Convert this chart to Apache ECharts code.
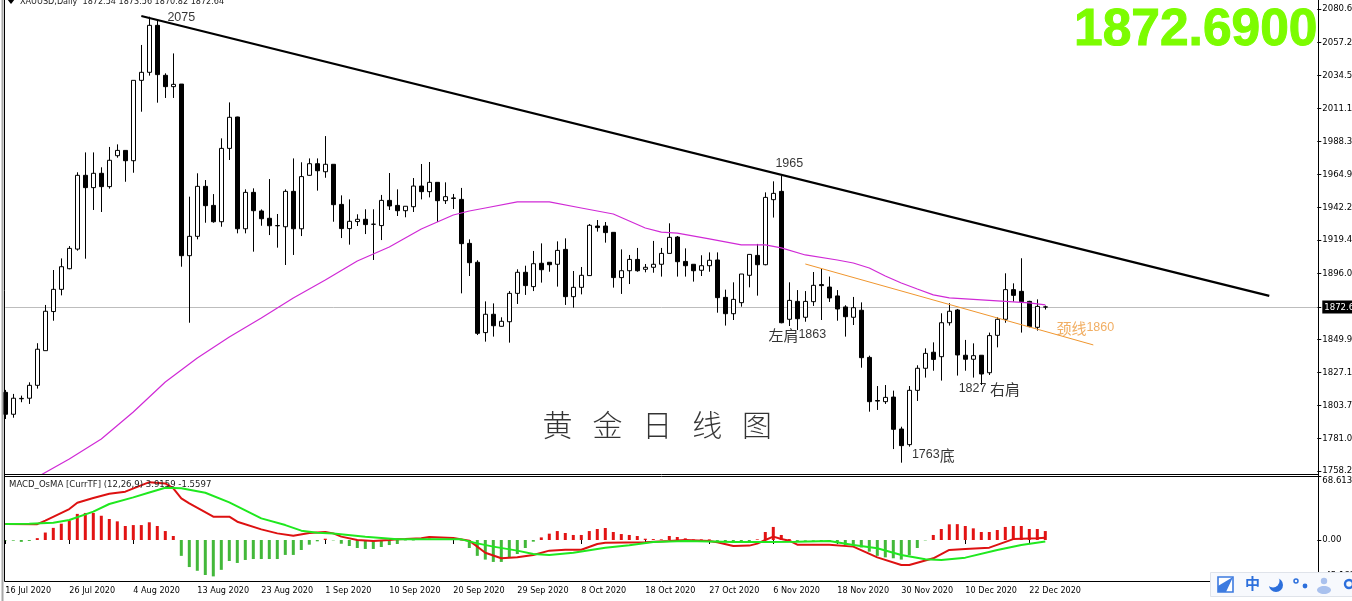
<!DOCTYPE html>
<html><head><meta charset="utf-8">
<style>html,body{margin:0;padding:0;background:#fff;overflow:hidden}#c{width:1352px;height:601px}</style>
<script src="https://cdn.jsdelivr.net/npm/echarts@6/dist/echarts.min.js"></script>
</head><body><div id="c"></div>
<script>
const xTickLabels = ['16 Jul 2020','26 Jul 2020','4 Aug 2020','13 Aug 2020','23 Aug 2020','1 Sep 2020','10 Sep 2020','20 Sep 2020','29 Sep 2020','8 Oct 2020','18 Oct 2020','27 Oct 2020','6 Nov 2020','18 Nov 2020','30 Nov 2020','10 Dec 2020','22 Dec 2020'];
const priceTicks = [2080.6,2057.2,2034.5,2011.1,1988.3,1964.9,1942.2,1919.4,1896.0,1872.6,1849.9,1827.1,1803.7,1781.0,1758.2];
const macdTicks = [68.6135,0,-43.95];
const lastPrice = 1872.64;

const opens = [1813.0,1797.7,1808.5,1808.9,1817.9,1842.1,1869.4,1884.9,1899.3,1913.0,
1964.5,1955.9,1965.9,1956.6,1978.2,1981.9,1974.7,2030.8,2036.4,2069.2,
2034.3,2026.4,2028.2,1908.4,1921.9,1956.8,1943.5,1932.1,1983.3,2005.2,
1927.2,1952.6,1939.6,1934.5,1929.4,1928.6,1953.3,1927.2,1964.5,1972.6,
1967.0,1972.2,1944.2,1927.3,1932.2,1933.8,1930.4,1929.4,1947.0,1943.5,
1939.8,1942.6,1957.0,1953.1,1959.6,1946.8,1948.7,1947.7,1917.0,1903.8,
1854.7,1867.5,1859.1,1862.3,1882.1,1896.8,1886.8,1903.1,1903.8,1902.4,
1912.8,1879.8,1886.3,1894.5,1929.1,1929.1,1924.7,1893.1,1897.9,1905.8,
1898.9,1900.3,1902.4,1910.0,1921.4,1904.4,1902.4,1898.2,1901.4,1905.4,
1879.3,1867.9,1875.6,1894.7,1908.6,1902.1,1947.5,1953.3,1864.0,1876.5,
1865.4,1876.3,1888.2,1886.5,1880.3,1872.6,1865.4,1870.3,1837.4,1807.3,
1806.5,1809.7,1787.4,1776.5,1814.4,1829.8,1841.0,1837.9,1861.6,1870.5,
1838.9,1836.1,1838.9,1826.7,1852.8,1864.0,1884.7,1883.5,1876.5,1858.4,
1872.54];
const closes = [1797.7,1808.9,1808.8,1817.9,1843.1,1869.6,1884.9,1900.7,1913.5,1964.5,
1955.9,1965.9,1956.6,1975.0,1981.9,1974.7,2030.8,2036.4,2069.2,2034.8,
2026.4,2028.0,1908.4,1921.9,1956.8,1943.3,1932.1,1983.3,2005.0,1927.2,
1952.6,1939.8,1934.2,1929.3,1929.3,1953.3,1927.2,1963.6,1972.6,1967.7,
1972.2,1944.0,1927.3,1932.4,1933.8,1930.1,1930.3,1947.0,1943.1,1939.8,
1942.9,1957.0,1953.1,1959.6,1946.8,1949.6,1948.4,1916.8,1903.5,1854.2,
1867.5,1859.5,1862.6,1882.1,1896.8,1887.5,1902.8,1898.6,1902.1,1912.1,
1879.8,1886.3,1894.7,1929.6,1928.0,1924.5,1893.1,1897.9,1905.8,1897.9,
1900.3,1902.4,1910.0,1921.2,1904.2,1901.4,1897.9,1901.4,1905.2,1879.1,
1867.9,1877.9,1895.6,1909.3,1902.1,1949.1,1951.9,1861.6,1877.2,1864.4,
1876.5,1887.7,1887.5,1878.9,1871.2,1865.8,1872.1,1837.2,1806.5,1806.9,
1809.5,1787.2,1775.8,1814.4,1829.8,1840.2,1836.0,1861.6,1869.6,1839.1,
1836.1,1838.6,1825.8,1852.6,1864.0,1884.7,1880.7,1876.3,1858.9,1873.0,
1872.64];
const lows = [1794.4,1795.3,1806.1,1804.9,1815.6,1842.1,1863.0,1880.7,1898.9,1911.9,
1906.3,1940.3,1938.9,1955.2,1976.8,1960.0,1966.3,2008.9,2034.1,2015.2,
2018.5,2018.5,1900.7,1861.6,1919.8,1931.4,1931.4,1928.6,1975.2,1924.0,
1924.0,1911.2,1929.3,1922.8,1914.0,1901.9,1908.9,1922.1,1964.2,1953.8,
1962.8,1932.1,1920.7,1916.1,1929.1,1923.5,1905.4,1919.3,1940.3,1936.1,
1935.2,1938.9,1947.7,1949.1,1931.9,1944.5,1941.0,1882.1,1894.2,1853.0,
1848.4,1851.9,1858.9,1847.7,1874.7,1881.0,1883.7,1889.6,1897.2,1886.8,
1874.0,1872.1,1881.4,1894.4,1925.2,1917.5,1886.1,1881.7,1888.6,1897.2,
1896.8,1896.5,1893.8,1910.0,1893.8,1893.8,1890.3,1894.2,1897.2,1868.6,
1859.6,1863.5,1872.8,1886.3,1880.5,1901.7,1935.0,1861.2,1859.3,1856.5,
1862.3,1873.3,1863.5,1876.1,1863.0,1851.9,1860.0,1830.2,1799.5,1800.7,
1804.9,1773.4,1763.9,1775.1,1807.0,1823.3,1828.1,1821.2,1859.6,1824.7,
1828.1,1823.3,1818.1,1825.1,1844.4,1861.6,1876.3,1854.7,1858.4,1856.1,
1870.82];
const highs = [1814.7,1811.9,1810.7,1820.0,1847.3,1874.0,1898.4,1906.5,1915.1,1966.6,
1980.5,1980.5,1970.1,1984.3,1986.1,1982.0,2030.8,2055.5,2075.2,2072.5,
2035.7,2049.6,2028.2,1949.6,1965.9,1961.2,1951.4,1990.3,2015.4,2005.4,
1954.7,1955.4,1940.7,1961.9,1937.5,1954.7,1976.3,1973.6,1976.3,1976.3,
1991.9,1972.2,1950.5,1947.7,1937.3,1940.8,1940.8,1950.8,1966.1,1954.7,
1942.9,1962.6,1972.4,1973.8,1959.6,1959.6,1951.5,1955.7,1919.8,1905.2,
1876.5,1875.1,1865.4,1883.7,1898.9,1901.4,1911.7,1917.0,1903.8,1918.4,
1920.5,1897.7,1900.5,1930.5,1933.3,1931.9,1924.7,1912.8,1908.9,1913.8,
1902.6,1918.7,1913.8,1931.0,1922.1,1913.5,1902.4,1908.7,1910.7,1910.7,
1884.7,1889.8,1895.6,1909.3,1916.6,1952.6,1960.3,1964.0,1889.8,1884.4,
1883.7,1897.0,1899.3,1893.8,1884.4,1873.8,1879.6,1875.8,1838.6,1817.4,
1818.1,1814.2,1789.0,1817.4,1831.9,1843.7,1847.9,1868.2,1875.2,1871.2,
1849.6,1847.2,1838.9,1854.7,1865.4,1896.1,1889.1,1906.6,1876.9,1877.9,
1873.56];

const maBars = [4,8,12,16,20,24,28,32,36,40,44,48,52,56,58,60,64,68,72,76,80,82,84,88,92,95,97,100,104,106,108,110,112,114,116,118,120,124,128,130];
const maValues = [1753.9,1766.5,1780.4,1799.3,1820.2,1837.0,1851.6,1864.9,1878.9,1891.4,1904.7,1914.5,1927.0,1936.8,1939.6,1941.7,1945.9,1945.9,1941.7,1937.5,1927.7,1924.9,1924.2,1920.1,1915.9,1915.9,1913.8,1908.9,1905.4,1903.3,1899.8,1894.2,1889.3,1885.1,1881.0,1878.9,1878.2,1876.8,1875.4,1874.0];

const histogram = [-0.5,-0.7,-2,-1,2,8,13,17.5,21,28,
29,29,26,22.5,20,15,16,16,19,15,
9.6,4.3,-17,-29,-33,-37.5,-39,-32,-22.5,-24.6,
-21.4,-20.4,-20.4,-20.4,-20.4,-16,-16,-10.7,-5,-1.4,
1.4,-0.4,-4,-6.4,-8.6,-9.6,-9.6,-7.5,-5.4,-4.3,
-0.5,-0.5,1,1.5,0.5,0.3,0.2,-0.5,-8.6,-17,
-21,-23.5,-23.5,-19,-15,-8.6,-1.8,2.8,6.8,9.6,
7.5,5.4,5.4,9.6,11.8,12.9,8.6,6.4,5.4,4.3,
1.4,1,0.7,4.3,3.2,1.8,0.7,0.7,0.7,-1,
-2,-3.2,-3.2,-2,0.7,8.6,14,5.4,1,-1,
-0.7,-0.7,-1.5,-2,-3.5,-5.4,-6,-8,-12.5,-17,
-18.6,-19.6,-21,-16.4,-8.6,-0.4,5.4,11.8,16.8,17,
15,12.5,8.6,8.6,10.7,14,15,15,11.8,11.8,
9.6];

const macdBars = [0,4,5,8,9,11,13,15,18,20,21,22,23,26,28,29,32,34,36,38,40,41,42,44,46,48,49,50,52,53,56,58,60,62,64,66,68,70,72,74,75,80,83,85,88,89,91,93,94,95,96,97,98,99,100,103,106,109,112,113,116,118,120,123,126,129,130];
const macdValues = [17.1,17,20.7,33.2,40,45,49.6,51.8,62,60.7,55.4,44.6,39.3,25,25,19.6,11.4,7.1,4.6,7.5,8.6,7.1,3.6,0,-1,0,0.7,1,1.8,3.2,2.1,-0.7,-13.6,-19.6,-18.6,-16,-11.4,-10.4,-10.4,-4.3,-2.9,-2.5,-1.1,0,-1,-2.5,-6.4,-6,-3.9,0,3.6,1,-0.7,-5,-5,-5,-7.1,-18.6,-26.8,-26.8,-19.6,-10.7,-9.6,-8.2,1,1.8,2.5];
const signalBars = [0,3,6,8,11,13,16,18,20,22,25,28,32,35,37,39,41,45,49,50,57,59,61,64,66,68,71,75,78,81,85,91,95,99,103,106,109,112,115,117,120,124,127,130];
const signalValues = [17.1,17.5,18.6,21.4,30.4,38.6,45.7,51,56,55.4,50.7,40.4,23.2,16,10,7.9,7.1,3.6,0.7,0.7,0.7,-3.6,-7.1,-11.4,-15,-16,-13.6,-8.2,-5.7,-2.1,-1,-2.1,-2.1,-1.8,-1,-5.4,-8.9,-16,-20.7,-21.4,-18.9,-10.7,-5.4,-1.6];

const resistanceBars = [17,158];
const resistancePrices = [2075.7,1880.3];
const necklineBars = [100,136];
const necklinePrices = [1902.6,1846.1];

const noteTexts = ['2075','1965','左肩1863','1827 右肩','1763底','颈线1860','黄   金   日   线   图'];
const noteBars = [22,98,99,123,116,135,81];
const notePrices = [2074.3,1972.4,1853.1,1815.4,1769.3,1857.9,1790.2];

const headerText = 'XAUUSD,Daily  1872.54 1873.56 1870.82 1872.64';
const macdHeader = 'MACD_OsMA [CurrTF] (12,26,9) 3.9159 -1.5597';
const bigQuote = '1872.6900';

const SLOTS = 165;
const categories = Array.from({length:SLOTS},(_,i)=> i%8===0 && xTickLabels[i/8] ? xTickLabels[i/8] : '');
const zip = (a,b)=>a.map((v,i)=>[v,b[i]]);
const UI = '"DejaVu Sans Condensed", "DejaVu Sans", sans-serif';
const CJK = '"Noto Sans CJK SC", sans-serif';
const isTick = i => i%8===0 && i/8 < xTickLabels.length;

const hline = (x1,y1,x2,y2,color,w)=>({type:'line',silent:true,z:50,shape:{x1,y1,x2,y2},style:{stroke:color,lineWidth:w}});

const chart = echarts.init(document.getElementById('c'),null,{renderer:'canvas'});
chart.setOption({
  animation:false,
  backgroundColor:'#fff',
  grid:[
    {left:5.3,width:1312,top:4,height:470,outerBoundsMode:'none',containLabel:false},
    {left:5.3,width:1312,top:476,height:105,outerBoundsMode:'none',containLabel:false}
  ],
  xAxis:[
    {type:'category',gridIndex:0,data:categories,boundaryGap:false,axisLine:{show:false},axisTick:{show:false},axisLabel:{show:false},splitLine:{show:false}},
    {type:'category',gridIndex:1,data:categories,boundaryGap:false,axisLine:{show:false},
     axisTick:{show:true,length:4,interval:(i)=>isTick(i),lineStyle:{color:'#000'}},
     axisLabel:{show:true,interval:(i)=>isTick(i),align:'left',margin:5,color:'#000',fontFamily:UI,fontSize:9,hideOverlap:false},splitLine:{show:false}}
  ],
  yAxis:[
    {type:'value',gridIndex:0,position:'right',min:1756.0,max:2084.09,axisLine:{show:false},splitLine:{show:false},
     axisTick:{show:true,length:4,customValues:priceTicks,lineStyle:{color:'#000'}},
     axisLabel:{show:true,customValues:priceTicks,margin:5,color:'#000',fontFamily:UI,fontSize:9.5,
       formatter:v=>Math.abs(v-1872.6)<0.01?'{cur|'+v.toFixed(1)+'}':v.toFixed(1),
       rich:{cur:{backgroundColor:'#000',color:'#fff',fontFamily:UI,fontSize:9.5,padding:[2,3,1,2]}}}},
    {type:'value',gridIndex:1,position:'right',min:-43.95,max:68.6135,axisLine:{show:false},splitLine:{show:false},
     axisTick:{show:true,length:4,customValues:macdTicks,lineStyle:{color:'#000'}},
     axisLabel:{show:true,customValues:macdTicks,margin:5,color:'#000',fontFamily:UI,fontSize:9.5,
       formatter:v=>v>1?'\n'+v.toFixed(4):(v<-1?'-45.1835\n':'0.00')}}
  ],
  series:[
    {type:'candlestick',name:'XAUUSD',xAxisIndex:0,yAxisIndex:0,barWidth:5,z:3,
     data:opens.map((o,i)=>[o,closes[i],lows[i],highs[i]]),
     itemStyle:{color:'#fff',color0:'#000',borderColor:'#000',borderColor0:'#000',borderColorDoji:'#000',borderWidth:1},
     markLine:{silent:true,symbol:'none',animation:false,z:1,label:{show:false},lineStyle:{color:'#bdbdbd',width:1,type:'solid'},data:[{yAxis:lastPrice}]}},
    {type:'line',name:'MA',xAxisIndex:0,yAxisIndex:0,data:zip(maBars,maValues),showSymbol:false,z:4,lineStyle:{color:'#d02ad6',width:1.2}},
    {type:'line',name:'Resistance',xAxisIndex:0,yAxisIndex:0,data:zip(resistanceBars,resistancePrices),showSymbol:false,z:5,lineStyle:{color:'#000',width:2.2}},
    {type:'line',name:'Neckline',xAxisIndex:0,yAxisIndex:0,data:zip(necklineBars,necklinePrices),showSymbol:false,z:5,lineStyle:{color:'#f0962e',width:1}},
    {type:'scatter',name:'Notes',xAxisIndex:0,yAxisIndex:0,symbolSize:1,z:6,itemStyle:{color:'transparent'},
     data:noteTexts.map((t,i)=>{
       const big = t.indexOf('黄')===0, orange = t.indexOf('颈')===0;
       const color = orange?'#ee9a3c':'#000';
       return {name:t,value:[noteBars[i],notePrices[i]],label: big
         ? {show:true,position:'inside',offset:[4,0],formatter:t,color,fontFamily:CJK,fontSize:30,fontWeight:300}
         : {show:true,position:'inside',color,fontFamily:'"Liberation Sans", sans-serif',fontSize:12.5,
            formatter:t.replace(/[^\x00-\x7f]+/g,m=>'{c|'+m+'}'),
            rich:{c:{fontFamily:CJK,fontSize:15,color}}}};
     })},
    {type:'bar',name:'OsMA',xAxisIndex:1,yAxisIndex:1,barWidth:3,z:2,
     data:histogram.map(v=>({value:v,itemStyle:{color:v>=0?'#e21313':'#43b83a'}}))},
    {type:'line',name:'MACD',xAxisIndex:1,yAxisIndex:1,data:zip(macdBars,macdValues),showSymbol:false,z:3,lineStyle:{color:'#dd1111',width:2}},
    {type:'line',name:'Signal',xAxisIndex:1,yAxisIndex:1,data:zip(signalBars,signalValues),showSymbol:false,z:4,lineStyle:{color:'#1fe81f',width:2}}
  ],
  graphic:{elements:[
    {type:'rect',silent:true,z:50,shape:{x:1.5,y:0,width:2,height:601},style:{fill:'#a8a8a8'}},
    hline(4.5,0,4.5,581.5,'#000',1),
    hline(1318.5,0,1318.5,582,'#000',1),
    hline(4.5,474.5,1318.5,474.5,'#000',1),
    hline(4.5,476.5,1318.5,476.5,'#000',1),
    hline(4.5,581.5,1318.5,581.5,'#000',1),
    {type:'polygon',silent:true,z:51,shape:{points:[[7,-1],[15,-1],[11,4]]},style:{fill:'#000'}},
    {type:'text',silent:true,z:51,x:20,y:-3,style:{text:headerText,fill:'#222',font:'9px '+UI}},
    {type:'text',silent:true,z:51,x:9,y:480,style:{text:macdHeader,fill:'#222',font:'9.5px '+UI}},
    {type:'text',silent:true,z:51,x:1074,y:5,style:{text:bigQuote,fill:'#7cfc00',stroke:'#7cfc00',lineWidth:1,font:'bold 51.5px "Liberation Sans"'}},
    {type:'rect',silent:true,z:60,shape:{x:1210.5,y:572.5,width:145,height:24},style:{fill:'#f7f9fd',stroke:'#dfe3ea',lineWidth:1}},
    {type:'rect',silent:true,z:61,shape:{x:1218,y:577,width:15,height:15},style:{fill:'#fff',stroke:'#3d7be0',lineWidth:1.6}},
    {type:'polygon',silent:true,z:61,shape:{points:[[1218,586],[1233,577],[1226,592],[1218,592]]},style:{fill:'#3d7be0'}},
    {type:'text',silent:true,z:61,x:1245,y:576,style:{text:'中',fill:'#2c6fdc',font:'bold 15px "Noto Sans CJK SC"'}},
    {type:'circle',silent:true,z:61,shape:{cx:1276,cy:585,r:7},style:{fill:'#2c6fdc'}},
    {type:'circle',silent:true,z:61,shape:{cx:1273,cy:581,r:6.5},style:{fill:'#f7f9fd'}},
    {type:'circle',silent:true,z:61,shape:{cx:1296,cy:581,r:2},style:{fill:'none',stroke:'#2c6fdc',lineWidth:1.5}},
    {type:'circle',silent:true,z:61,shape:{cx:1305,cy:586,r:2.4},style:{fill:'#2c6fdc'}},
    {type:'circle',silent:true,z:61,shape:{cx:1324,cy:581,r:3.2},style:{fill:'#a9c1ee'}},
    {type:'ellipse',silent:true,z:61,shape:{cx:1324,cy:590,rx:7,ry:4},style:{fill:'#a9c1ee'}},
    {type:'circle',silent:true,z:61,shape:{cx:1349,cy:584,r:4},style:{fill:'none',stroke:'#2c6fdc',lineWidth:2.4}}
  ]}
});
</script></body></html>
